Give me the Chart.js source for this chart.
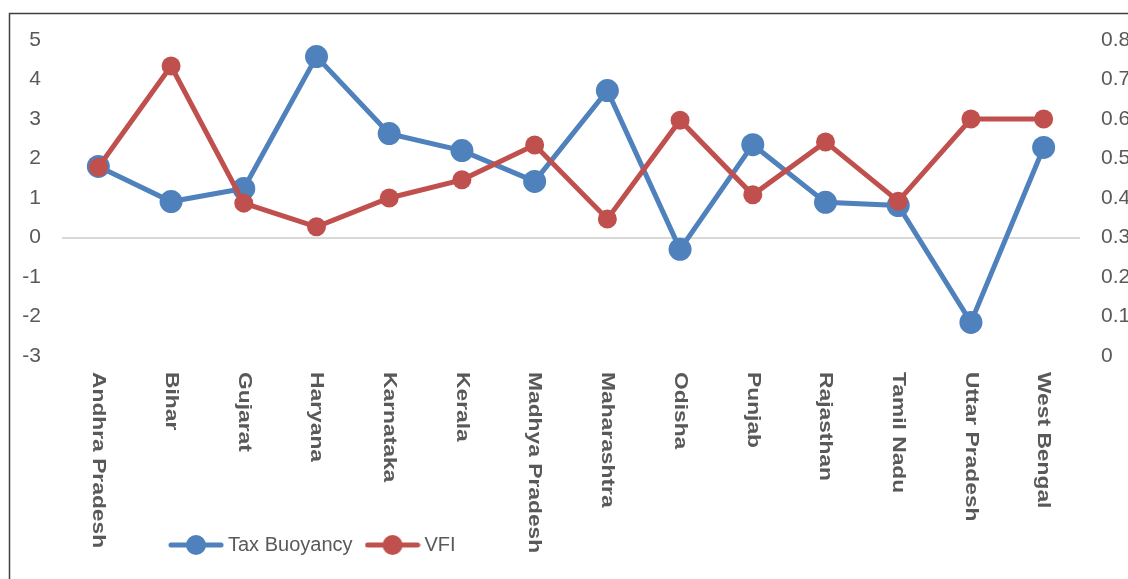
<!DOCTYPE html>
<html>
<head>
<meta charset="utf-8">
<title>Tax Buoyancy vs VFI</title>
<script src="https://cdn.jsdelivr.net/npm/chart.js@4.4.0/dist/chart.umd.min.js"></script>
<style>
    html, body { margin: 0; padding: 0; background: #fff; overflow: hidden; }
    #chart { display: block; }
</style>
</head>
<body>
<canvas id="chart" width="1150" height="579"></canvas>
<script>
// ========== data ==========
const states = ['Andhra Pradesh', 'Bihar', 'Gujarat', 'Haryana', 'Karnataka', 'Kerala',
    'Madhya Pradesh', 'Maharashtra', 'Odisha', 'Punjab', 'Rajasthan', 'Tamil Nadu',
    'Uttar Pradesh', 'West Bengal'];
const taxBuoyancy = [1.80, 0.91, 1.24, 4.58, 2.63, 2.20, 1.42, 3.72, -0.30, 2.35, 0.89, 0.81, -2.15, 2.28];
const vfi = [0.478, 0.734, 0.387, 0.327, 0.400, 0.446, 0.534, 0.347, 0.597, 0.408, 0.542, 0.392, 0.600, 0.600];

const BLUE = '#4F81BD';
const RED = '#C0504D';
const GREY = '#595959';

// legend icon: line with a dot in the middle (Excel style)
function makeLegendIcon(color, r) {
    const c = document.createElement('canvas');
    c.width = 56;
    c.height = 24;
    const g = c.getContext('2d');
    g.strokeStyle = color;
    g.lineWidth = 5;
    g.lineCap = 'round';
    g.beginPath();
    g.moveTo(3, 12);
    g.lineTo(53, 12);
    g.stroke();
    g.fillStyle = color;
    g.beginPath();
    g.arc(28, 12, r, 0, Math.PI * 2);
    g.fill();
    return c;
}
const legendIcons = [makeLegendIcon(BLUE, 10), makeLegendIcon(RED, 10)];

// frame + white background
const framePlugin = {
    id: 'frame',
    beforeDraw(chart) {
        const ctx = chart.ctx;
        ctx.save();
        ctx.fillStyle = '#fff';
        ctx.fillRect(0, 0, chart.width, chart.height);
        ctx.strokeStyle = '#404040';
        ctx.lineWidth = 1.5;
        ctx.beginPath();
        ctx.moveTo(9.5, chart.height);
        ctx.lineTo(9.5, 13.5);
        ctx.lineTo(chart.width, 13.5);
        ctx.stroke();
        ctx.restore();
    }
};

// category labels, rotated clockwise (read top to bottom)
const categoryLabelPlugin = {
    id: 'categoryLabels',
    afterDraw(chart) {
        const ctx = chart.ctx;
        const xScale = chart.scales.x;
        const y0 = chart.chartArea.bottom + 16;
        ctx.save();
        ctx.fillStyle = GREY;
        ctx.font = 'bold 19px "Liberation Sans", Arial, sans-serif';
        ctx.textAlign = 'left';
        ctx.textBaseline = 'middle';
        states.forEach((name, i) => {
            const x = xScale.getPixelForValue(i);
            ctx.save();
            ctx.translate(x, y0);
            ctx.scale(1, 1.2);
            ctx.rotate(Math.PI / 2);
            ctx.fillText(name, 0, 0);
            ctx.restore();
        });
        ctx.restore();
    }
};

// move the legend to the left-bottom like the original
const legendPlacePlugin = {
    id: 'legendPlace',
    afterLayout(chart) {
        const lg = chart.legend;
        if (!lg) return;
        const w = lg.right - lg.left;
        const h = lg.bottom - lg.top;
        lg.left = 156;
        lg.right = lg.left + w;
        lg.top = 517;
        lg.bottom = lg.top + h;
    }
};

const tickFont = { family: '"Liberation Sans Narrow", "Arial Narrow", "Liberation Sans", sans-serif', size: 21 };

new Chart(document.getElementById('chart'), {
    type: 'line',
    data: {
        labels: states,
        datasets: [
            {
                label: 'Tax Buoyancy',
                data: taxBuoyancy,
                yAxisID: 'y',
                borderColor: BLUE,
                backgroundColor: BLUE,
                borderWidth: 5,
                pointRadius: 11.5,
                pointBorderWidth: 0,
                pointBackgroundColor: BLUE,
                tension: 0,
                order: 1
            },
            {
                label: 'VFI',
                data: vfi,
                yAxisID: 'y1',
                borderColor: RED,
                backgroundColor: RED,
                borderWidth: 5,
                pointRadius: 9.5,
                pointBorderWidth: 0,
                pointBackgroundColor: RED,
                tension: 0,
                order: 0
            }
        ]
    },
    options: {
        responsive: false,
        animation: false,
        layout: { padding: { top: 40, left: 0, right: 0, bottom: 0 } },
        plugins: {
            tooltip: { enabled: false },
            legend: {
                display: true,
                position: 'bottom',
                align: 'start',
                labels: {
                    color: GREY,
                    font: { family: '"Liberation Sans Narrow", "Arial Narrow", "Liberation Sans", sans-serif', size: 20 },
                    usePointStyle: true,
                    pointStyleWidth: 44,
                    padding: 18,
                    generateLabels(chart) {
                        return chart.data.datasets.map((ds, i) => ({
                            text: ds.label,
                            datasetIndex: i,
                            pointStyle: legendIcons[i],
                            fillStyle: ds.borderColor,
                            strokeStyle: ds.borderColor,
                            lineWidth: 0,
                            fontColor: GREY,
                            hidden: false
                        }));
                    }
                }
            }
        },
        scales: {
            x: {
                offset: true,
                grid: { display: false },
                border: { display: false },
                ticks: { display: false },
                afterFit(scale) {
                    const lgH = scale.chart.legend ? scale.chart.legend.height : 0;
                    scale.height = 579 - 356 - lgH;
                }
            },
            y: {
                position: 'left',
                min: -3,
                max: 5,
                ticks: { stepSize: 1, color: GREY, font: tickFont, padding: 21 },
                grid: {
                    drawTicks: false,
                    lineWidth: 2,
                    color: ctx => (ctx.tick && ctx.tick.value === 0 ? '#D9D9D9' : 'transparent')
                },
                border: { display: false },
                afterFit(scale) { scale.width = 62; }
            },
            y1: {
                position: 'right',
                min: 0,
                max: 0.8,
                ticks: { stepSize: 0.1, color: GREY, font: tickFont, padding: 21 },
                grid: { display: false, drawTicks: false },
                border: { display: false },
                afterFit(scale) { scale.width = 70; }
            }
        }
    },
    plugins: [framePlugin, categoryLabelPlugin, legendPlacePlugin]
});
</script>
</body>
</html>
